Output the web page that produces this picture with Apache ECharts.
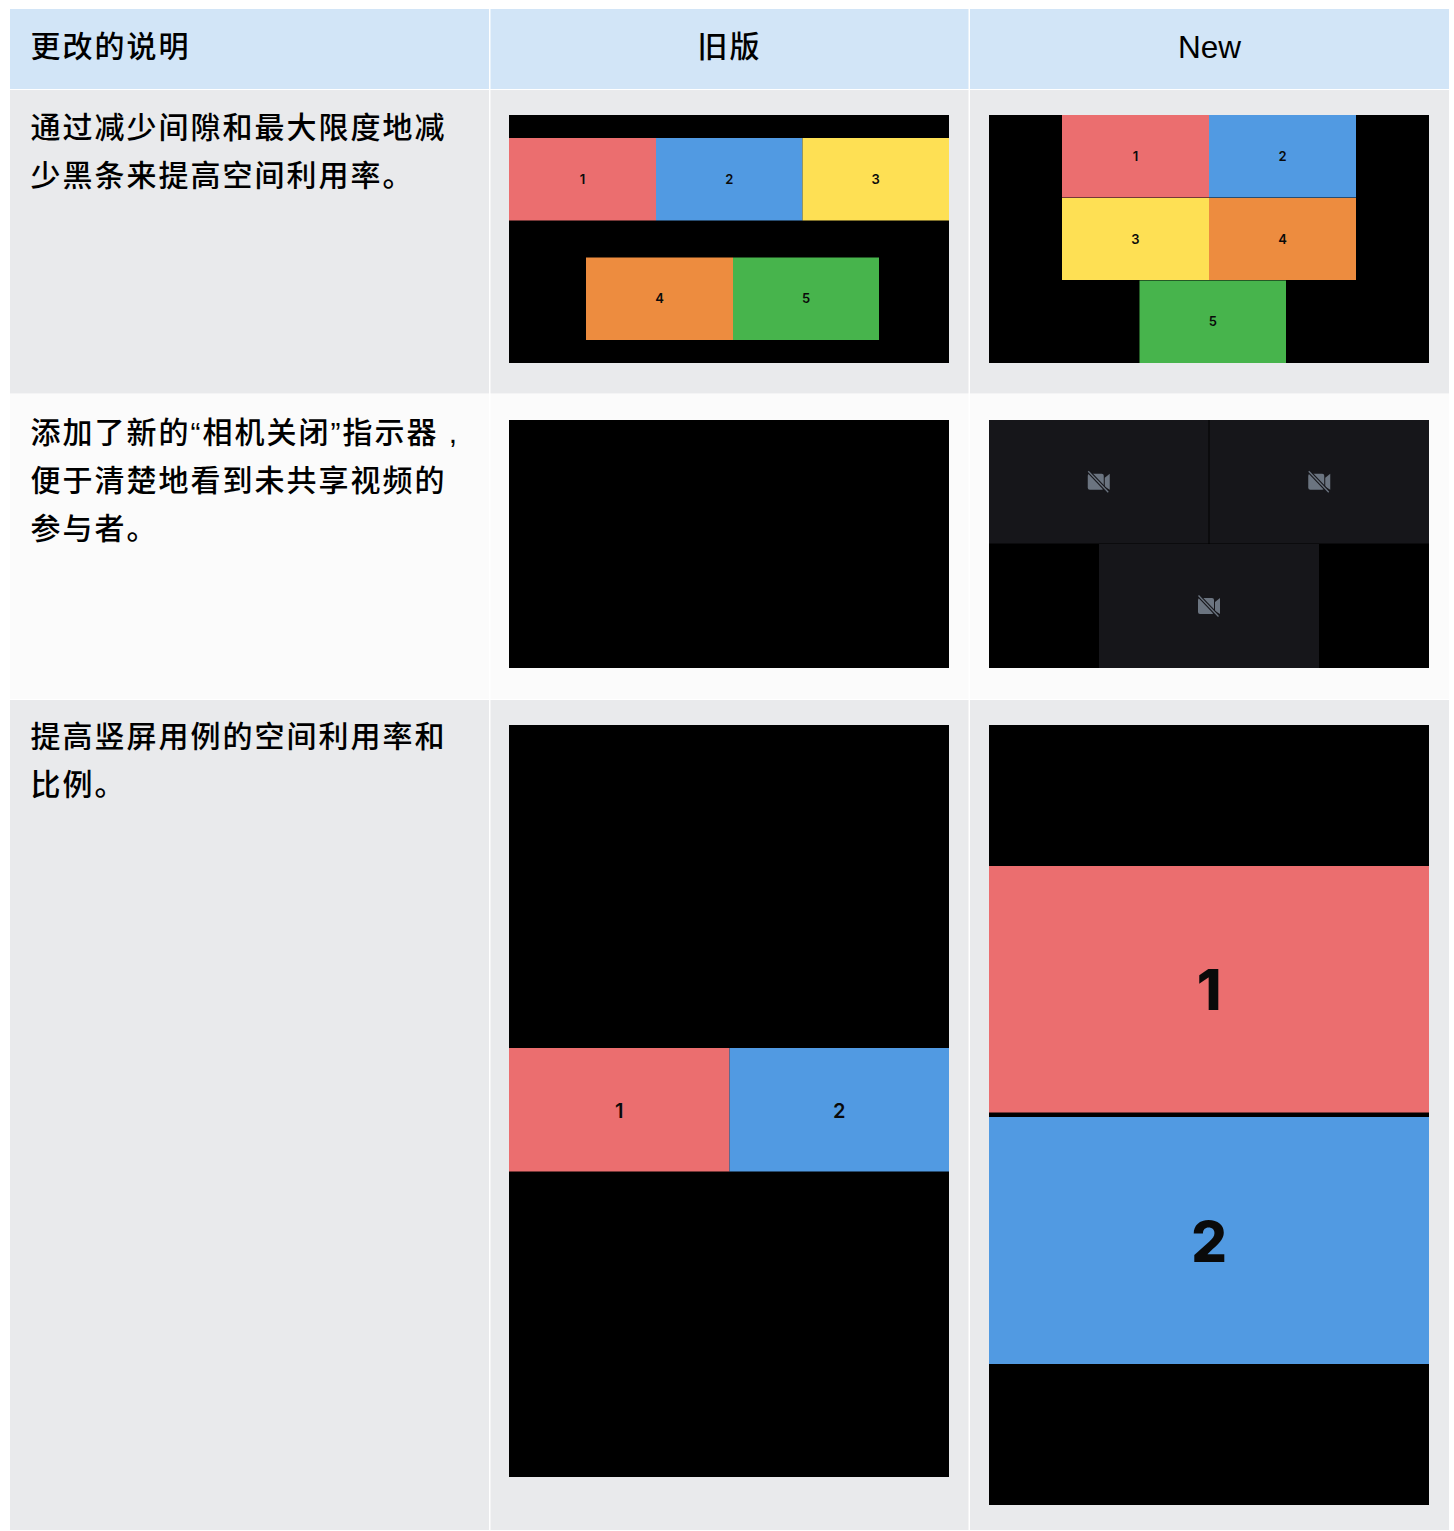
<!DOCTYPE html>
<html>
<head>
<meta charset="utf-8">
<title>更改的说明</title>
<style>
  html, body { margin: 0; background: #fff; }
  #chart { width: 1454px; height: 1531px; }
  /* canvas text has no tracking, so the chinese lines are spaced here */
  #chart text[style*="CJK"] { letter-spacing: 2px; }
</style>
<script src="https://cdn.jsdelivr.net/npm/echarts@6/dist/echarts.min.js"></script>
</head>
<body>
<div id="chart"></div>
<script>
// table text
var headers = ['更改的说明', '旧版', 'New']
var notes = [
  ['通过减少间隙和最大限度地减', '少黑条来提高空间利用率。'],
  ['添加了新的“相机关闭”指示器 ,', '便于清楚地看到未共享视频的', '参与者。'],
  ['提高竖屏用例的空间利用率和', '比例。']
]

// tiles in each screenshot: [x0, x1, y0, y1, label], read in pixels of the screenshot
var oldTiles1 = [[0, 147, 23, 105.5, '1'], [147, 293.5, 23, 105.5, '2'], [293.5, 440, 23, 105.5, '3'], [77, 224, 142.5, 225, '4'], [224, 370, 142.5, 225, '5']]
var newTiles1 = [[73, 220, 0, 82.5, '1'], [220, 367, 0, 82.5, '2'], [73, 220, 83, 165, '3'], [220, 367, 83, 165, '4'], [150.5, 297, 165.5, 248, '5']]
var oldTiles2 = []
var newTiles2 = [[0, 219.5, 0, 123.5, ''], [220.5, 440, 0, 123.5, ''], [110, 330, 124, 248, '']]
var oldTiles3 = [[0, 220.5, 323, 446.5, '1'], [220.5, 440, 323, 446.5, '2']]
var newTiles3 = [[0, 440, 141, 387.5, '1'], [0, 440, 392, 639, '2']]

var tileColors = { 1: '#eb6e6f', 2: '#519ae2', 3: '#fee054', 4: '#ed8c3f', 5: '#47b44c' }
var CAMERA_OFF = '#16161a'

// layout of the table on the page
var colLeft = [10, 490.5, 970]
var colRight = [489, 968.5, 1449]
var rowTop = [9, 90, 394, 700]
var rowBottom = [89, 393.5, 699, 1530]
var rowFill = ['#d2e5f7', '#e9eaec', '#fbfbfb', '#e9eaec']
var noteTop = [127, 432, 736]

var panels = [
  { tiles: oldTiles1, box: [509, 115, 440, 248], font: 13, nudge: -0.5 },
  { tiles: newTiles1, box: [989, 115, 440, 248], font: 13, nudge: -0.5 },
  { tiles: oldTiles2, box: [509, 420, 440, 248], font: 13, nudge: 0 },
  { tiles: newTiles2, box: [989, 420, 440, 248], font: 13, nudge: 0 },
  { tiles: oldTiles3, box: [509, 725, 440, 752], font: 20, nudge: 1 },
  { tiles: newTiles3, box: [989, 725, 440, 780], font: 56, nudge: 1 }
]

var BODY_FONT = 'Liberation Sans, Noto Sans CJK SC, sans-serif'
var LATIN_FONT = 'Liberation Sans, sans-serif'
var TILE_FONT = 'Inter, sans-serif'

var cellRows = []
rowFill.forEach(function (fill, r) {
  colLeft.forEach(function (left, c) {
    cellRows.push([left, colRight[c], rowTop[r], rowBottom[r], fill])
  })
})

var textRows = []
headers.forEach(function (text, c) {
  textRows.push(c === 0 ? [30.5, 46, text, 'left'] : [(colLeft[c] + colRight[c]) / 2, text === 'New' ? 47 : 46, text, 'center'])
})
notes.forEach(function (lines, r) {
  lines.forEach(function (line, i) {
    textRows.push([30.5, noteTop[r] + i * 48, line, 'left'])
  })
})

function renderCell (params, api) {
  var a = api.coord([api.value(0), api.value(2)])
  var b = api.coord([api.value(1), api.value(3)])
  return {
    type: 'rect',
    shape: { x: a[0], y: a[1], width: b[0] - a[0], height: b[1] - a[1] },
    style: { fill: api.value(4) }
  }
}

function renderText (params, api) {
  var p = api.coord([api.value(0), api.value(1)])
  var text = api.value(2)
  return {
    type: 'text',
    style: {
      x: p[0],
      y: p[1],
      text: text,
      font: text === 'New' ? '31.5px ' + LATIN_FONT : '500 30px ' + BODY_FONT,
      fill: '#000',
      align: api.value(3),
      verticalAlign: 'middle'
    }
  }
}

function tileRenderer (font, nudge) {
  return function (params, api) {
    var a = api.coord([api.value(0), api.value(2)])
    var b = api.coord([api.value(1), api.value(3)])
    var label = api.value(4)
    var cx = (a[0] + b[0]) / 2
    var cy = (a[1] + b[1]) / 2
    var children = [{
      type: 'rect',
      shape: { x: a[0], y: a[1], width: b[0] - a[0], height: b[1] - a[1] },
      style: { fill: tileColors[label] || CAMERA_OFF }
    }]
    if (label) {
      children.push({
        type: 'text',
        style: {
          x: cx,
          y: cy + nudge,
          text: label,
          font: (font > 40 ? '800 ' : '600 ') + font + 'px ' + TILE_FONT,
          fill: '#0a0a0a',
          align: 'center',
          verticalAlign: 'middle'
        }
      })
    } else {
      // camera off icon
      children.push(
        { type: 'path', shape: { pathData: 'M2 0H14a2 2 0 0 1 2 2V14a2 2 0 0 1 -2 2H2a2 2 0 0 1 -2 -2V2a2 2 0 0 1 2 -2Z', layout: 'cover', x: cx - 11, y: cy - 8, width: 16, height: 16 }, style: { fill: '#6b7480' } },
        { type: 'polygon', shape: { points: [[cx + 6, cy - 4], [cx + 11, cy - 8], [cx + 11, cy + 8], [cx + 6, cy + 5]] }, style: { fill: '#6b7480' } },
        { type: 'line', shape: { x1: cx - 10, y1: cy - 10, x2: cx + 9, y2: cy + 10 }, style: { stroke: CAMERA_OFF, lineWidth: 3.5 } },
        { type: 'line', shape: { x1: cx - 10.5, y1: cy - 10.5, x2: cx + 9.5, y2: cy + 10.5 }, style: { stroke: '#6b7480', lineWidth: 1.3 } }
      )
    }
    return { type: 'group', children: children }
  }
}

// grid 0 is the whole page, the other grids are the screenshots
var grids = [{ left: 0, top: 0, width: 1454, height: 1531 }]
var xAxes = [{ type: 'value', min: 0, max: 1454, show: false }]
var yAxes = [{ type: 'value', min: 0, max: 1531, inverse: true, show: false }]
var series = [
  { type: 'custom', z: 1, silent: true, xAxisIndex: 0, yAxisIndex: 0, clip: false, encode: { x: [0, 1], y: [2, 3] }, renderItem: renderCell, data: cellRows },
  { type: 'custom', z: 1, silent: true, xAxisIndex: 0, yAxisIndex: 0, clip: false, encode: { x: 0, y: 1 }, renderItem: renderText, data: textRows }
]

panels.forEach(function (panel, i) {
  grids.push({ left: panel.box[0], top: panel.box[1], width: panel.box[2], height: panel.box[3], show: true, backgroundColor: '#000', borderWidth: 0, z: 2 })
  xAxes.push({ type: 'value', gridIndex: i + 1, min: 0, max: panel.box[2], show: false })
  yAxes.push({ type: 'value', gridIndex: i + 1, min: 0, max: panel.box[3], inverse: true, show: false })
  series.push({
    type: 'custom',
    z: 3,
    silent: true,
    xAxisIndex: i + 1,
    yAxisIndex: i + 1,
    encode: { x: [0, 1], y: [2, 3] },
    renderItem: tileRenderer(panel.font, panel.nudge),
    data: panel.tiles
  })
})

var chart = echarts.init(document.getElementById('chart'), null, { renderer: 'svg' })
chart.setOption({
  animation: false,
  backgroundColor: '#fff',
  grid: grids,
  xAxis: xAxes,
  yAxis: yAxes,
  series: series
})
</script>
</body>
</html>
